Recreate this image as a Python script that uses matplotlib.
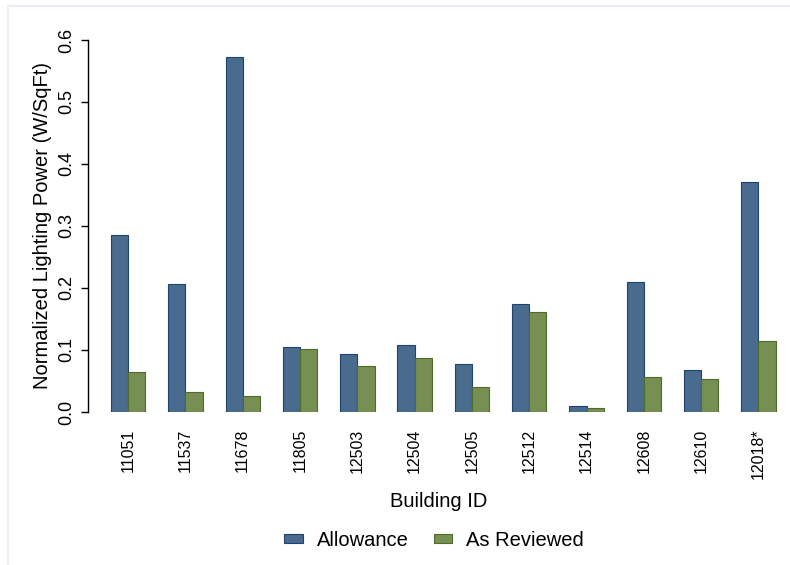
import matplotlib
matplotlib.use("Agg")
import matplotlib.pyplot as plt
import numpy as np
from matplotlib.patches import Rectangle

plt.rcParams['font.family'] = ['Liberation Sans', 'DejaVu Sans']

buildings = ["11051", "11537", "11678", "11805", "12503", "12504",
             "12505", "12512", "12514", "12608", "12610", "12018*"]
allowance = [0.285, 0.206, 0.573, 0.105, 0.094, 0.108,
             0.077, 0.174, 0.010, 0.209, 0.068, 0.371]
as_reviewed = [0.065, 0.032, 0.026, 0.102, 0.074, 0.087,
               0.041, 0.161, 0.006, 0.057, 0.054, 0.114]

blue = "#496b8d"
green = "#778f52"

fig = plt.figure(figsize=(7.9, 5.65), dpi=100)
# faint outer frame
fig.patches.append(Rectangle((8 / 790, -0.01), 1.0, 1 - 6 / 565 + 0.01,
                             transform=fig.transFigure, fill=False,
                             edgecolor="#e8eef3", linewidth=1.5))
ax = fig.add_axes([88 / 790, 153 / 565, 702 / 790, 372 / 565])

x = np.arange(len(buildings))
w = 0.3
ax.bar(x - w / 2, allowance, w, color=blue, edgecolor="#1f4370",
       linewidth=0.8, label="Allowance")
ax.bar(x + w / 2, as_reviewed, w, color=green, edgecolor="#4d6d28",
       linewidth=0.8, label="As Reviewed")

ax.set_xlim(-0.7, 11.55)
ax.set_ylim(0, 0.6)
ax.set_yticks(np.arange(0, 0.61, 0.1))
ax.set_yticklabels([f"{v:.1f}" for v in np.arange(0, 0.61, 0.1)],
                   rotation=90, va="center", fontsize=13)
ax.set_xticks(x)
ax.set_xticklabels(buildings, rotation=90, fontsize=11.5)
ax.tick_params(axis="x", length=0, pad=12)
ax.tick_params(axis="y", length=5, width=1, pad=4)

for s in ["top", "right", "bottom"]:
    ax.spines[s].set_visible(False)
ax.spines["left"].set_linewidth(1)

ax.set_ylabel("Normalized Lighting Power (W/SqFt)", fontsize=14.5, labelpad=5)
ax.set_xlabel("Building ID", fontsize=14.5, labelpad=9)

fig.legend(loc="center", bbox_to_anchor=(434 / 790, 1 - 540 / 565), ncol=2,
           frameon=False, fontsize=14.5, handlelength=0.9, handleheight=0.3,
           columnspacing=1.25, handletextpad=0.7)

fig.savefig("out.png", dpi=100)
